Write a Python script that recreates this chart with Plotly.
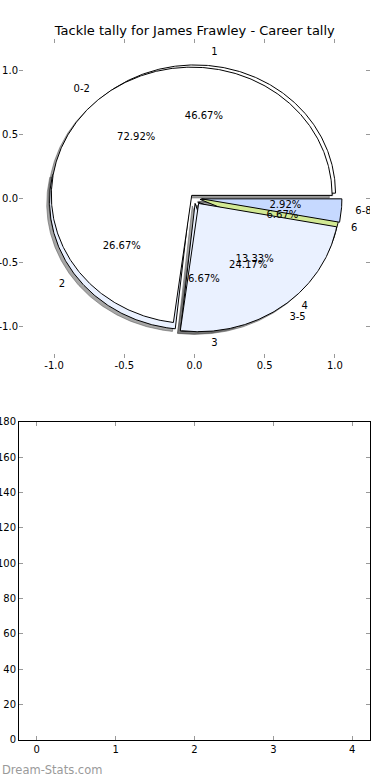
import math
import plotly.graph_objects as go

# ---------------- data ----------------
title_text = "Tackle tally for James Frawley - Career tally"
tackle_labels = ["1", "2", "3", "4", "6"]
tackle_counts = [7, 4, 1, 2, 1]
range_labels = ["0-2", "3-5", "6-8"]
range_counts = [175, 58, 7]
bar_xticks = [0, 1, 2, 3, 4]
bar_yticks = [0, 20, 40, 60, 80, 100, 120, 140, 160, 180]
pie_ticks = [-1.0, -0.5, 0.0, 0.5, 1.0]

# ---------------- style ----------------
tackle_colors = ["#FFFFFF", "#EAF1FF", "#EAF1FF", "#C6D9FF", "#D2E994"]
range_colors = ["#FFFFFF", "#EAF1FF", "#C6D9FF"]
tackle_explode = [0.04, 0.04, 0.04, 0.04, 0.04]
range_explode = [0.03, 0.05, 0.05]
SHADOW = (-0.02, -0.02)
FONT = "DejaVu Sans"


def pie_geometry(counts, explode):
    total = float(sum(counts))
    out = []
    t1 = 0.0
    for c, e in zip(counts, explode):
        t2 = t1 + 360.0 * c / total
        mid = math.radians((t1 + t2) / 2.0)
        cx, cy = e * math.cos(mid), e * math.sin(mid)
        n = max(4, int((t2 - t1) * 2))
        xs, ys = [cx], [cy]
        for i in range(n + 1):
            a = math.radians(t1 + (t2 - t1) * i / n)
            xs.append(cx + math.cos(a))
            ys.append(cy + math.sin(a))
        xs.append(cx)
        ys.append(cy)
        out.append(dict(xs=xs, ys=ys, cx=cx, cy=cy, mid=mid,
                        pct=100.0 * c / total))
        t1 = t2
    return out


geoA = pie_geometry(tackle_counts, tackle_explode)
geoB = pie_geometry(range_counts, range_explode)

fig = go.Figure()

# shadows
for geo in (geoA, geoB):
    for g in geo:
        fig.add_trace(go.Scatter(
            x=[v + SHADOW[0] for v in g["xs"]], y=[v + SHADOW[1] for v in g["ys"]],
            mode="lines", fill="toself", fillcolor="rgba(77,77,77,0.5)",
            line=dict(color="rgba(77,77,77,0.5)", width=1),
            hoverinfo="skip", showlegend=False, xaxis="x", yaxis="y"))

# wedges
for geo, cols in ((geoA, tackle_colors), (geoB, range_colors)):
    for g, col in zip(geo, cols):
        fig.add_trace(go.Scatter(
            x=g["xs"], y=g["ys"], mode="lines", fill="toself", fillcolor=col,
            line=dict(color="#000000", width=1),
            hoverinfo="skip", showlegend=False, xaxis="x", yaxis="y"))

# percent texts and labels
for geo, labs in ((geoA, tackle_labels), (geoB, range_labels)):
    fig.add_trace(go.Scatter(
        x=[g["cx"] + 0.6 * math.cos(g["mid"]) for g in geo],
        y=[g["cy"] + 0.6 * math.sin(g["mid"]) for g in geo],
        mode="text", text=["%1.2f%%" % g["pct"] for g in geo],
        textposition="middle center",
        textfont=dict(family=FONT, size=10, color="#000000"),
        hoverinfo="skip", showlegend=False, xaxis="x", yaxis="y"))
    lx = [g["cx"] + 1.1 * math.cos(g["mid"]) for g in geo]
    ly = [g["cy"] + 1.1 * math.sin(g["mid"]) for g in geo]
    fig.add_trace(go.Scatter(
        x=lx, y=ly, mode="text", text=labs,
        textposition=["middle right" if v > 0 else "middle left" for v in lx],
        textfont=dict(family=FONT, size=10, color="#000000"),
        hoverinfo="skip", showlegend=False, xaxis="x", yaxis="y"))

# empty lower axes
fig.add_trace(go.Scatter(x=[], y=[], mode="markers", showlegend=False,
                         xaxis="x2", yaxis="y2"))

tick_style = dict(ticks="inside", ticklen=4, tickwidth=1, tickcolor="#999999",
                  showgrid=False, zeroline=False, automargin=False,
                  tickfont=dict(family=FONT, size=10, color="#000000"))

fig.update_layout(
    width=390, height=780,
    margin=dict(l=19, r=20, t=39, b=40, autoexpand=False),
    paper_bgcolor="white", plot_bgcolor="white",
    font=dict(family=FONT, size=10, color="#000000"),
    title=dict(text=title_text, x=0.4995, xanchor="center",
               y=1 - 30 / 780, yanchor="middle", yref="container",
               font=dict(family=FONT, size=13, color="#000000")),
    xaxis=dict(domain=[0, 1], anchor="y", range=[-1.25, 1.25],
               tickvals=pie_ticks, ticktext=["%.1f" % v for v in pie_ticks],
               showline=False, mirror="ticks", **tick_style),
    yaxis=dict(domain=[0.5456, 1], anchor="x", range=[-1.242, 1.242],
               tickvals=pie_ticks, ticktext=["%.1f" % v for v in pie_ticks],
               showline=False, mirror="ticks", **tick_style),
    xaxis2=dict(domain=[0, 1], anchor="y2", range=[-0.225, 4.225],
                tickvals=bar_xticks, showline=True, linecolor="#000000",
                linewidth=1, mirror="ticks", **tick_style),
    yaxis2=dict(domain=[0, 0.454], anchor="x2", range=[0, 180],
                tickvals=bar_yticks, showline=True, linecolor="#000000",
                linewidth=1, mirror="ticks", **tick_style),
    annotations=[dict(text="Dream-Stats.com", xref="paper", yref="paper",
                      x=-19 / 351, y=(740 - 770) / 701, xanchor="left",
                      yanchor="middle", showarrow=False,
                      font=dict(family=FONT, size=11.5, color="#9a9a9a"))],
)

fig.write_html("out.html",
               config={"displayModeBar": False},
               post_script="document.body.style.margin='0';"
                           "document.body.style.overflow='hidden';")
